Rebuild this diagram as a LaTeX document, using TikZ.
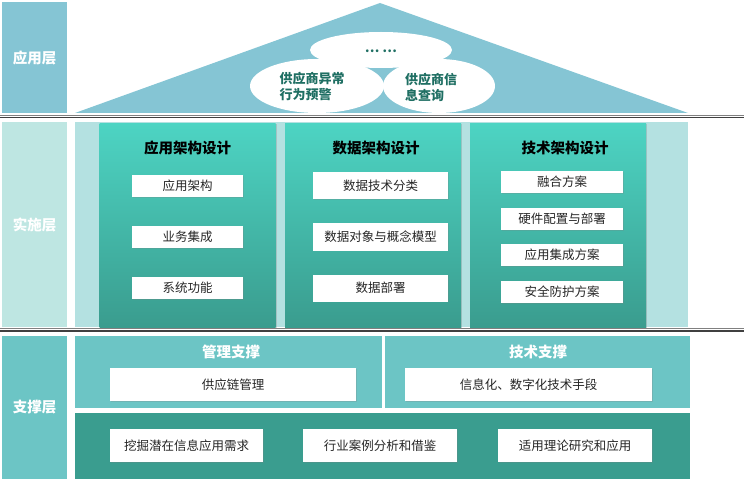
\documentclass[tikz,border=0pt]{standalone}
\usepackage{fontspec}
\setmainfont{Noto Sans CJK SC}
\usetikzlibrary{shapes.geometric,shadows}

\definecolor{appblue}{HTML}{85C5D4}
\definecolor{implpale}{HTML}{BEE6E2}
\definecolor{implband}{HTML}{B4E1E1}
\definecolor{supteal}{HTML}{6CC5C5}
\definecolor{supdark}{HTML}{3A9D8F}
\definecolor{pnltop}{HTML}{4DD4C3}
\definecolor{pnlbot}{HTML}{3A9C8E}
\definecolor{ovaltext}{HTML}{1F6F63}
\definecolor{sepgray}{HTML}{404040}
\definecolor{itemtext}{HTML}{262626}

\tikzset{
	layer/.style={fill=#1,text=white,font=\fontsize{14.5}{17}\selectfont\bfseries,minimum width=65pt,inner sep=0pt},
	band/.style={fill=#1,inner sep=0pt},
	panel/.style={top color=pnltop,bottom color=pnlbot,minimum width=176pt,minimum height=204pt,inner sep=0pt,
		drop shadow={opacity=0.3,shadow xshift=1pt,shadow yshift=-1pt}},
	ptitle/.style={font=\fontsize{14.5}{17}\selectfont\bfseries,text=black,inner sep=0pt},
	stitle/.style={font=\fontsize{14.5}{17}\selectfont\bfseries,text=white,inner sep=0pt},
	itembox/.style={fill=white,inner sep=0pt,text=itemtext,font=\fontsize{12.5}{15}\selectfont,
		drop shadow={opacity=0.25,shadow xshift=0.8pt,shadow yshift=-0.8pt}},
	oval/.style={ellipse,fill=white,inner sep=0pt},
	ovaltxt/.style={inner sep=0pt,text=ovaltext,font=\fontsize{13}{16}\selectfont\bfseries,align=left},
	sepline/.style={draw=sepgray,line width=1.6pt},
	septhin/.style={draw=gray,line width=0.5pt}
}

\begin{document}
\begin{tikzpicture}[x=1pt,y=-1pt]
	\useasboundingbox (0,0) rectangle (744,481);
	\node[layer=appblue,minimum height=111pt] (lApp) at (34.5,57.5) {应用层};
	\node[layer=implpale,minimum height=205pt] (lImpl) at (34.5,224.5) {实施层};
	\node[layer=supteal,minimum height=143pt] (lSup) at (34.5,407.5) {支撑层};
	\fill[appblue] (75,113) -- (380,3) -- (688,113) -- cycle;
	\node[oval,minimum width=142pt,minimum height=36pt] (oMore) at (381,50) {};
	\node[oval,minimum width=134pt,minimum height=54pt] (oAlarm) at (317,86) {};
	\node[oval,minimum width=112pt,minimum height=54pt] (oQuery) at (439,86) {};
	\node[ovaltxt] (xMore) at (381,51) {… …};
	\node[ovaltxt] (xAlarm) at (312,87) {供应商异常\\行为预警};
	\node[ovaltxt] (xQuery) at (431,87) {供应商信\\息查询};
	\draw[septhin] (0,114.8) -- (744,114.8);
	\draw[sepline] (0,117.5) -- (744,117.5);
	\node[band=implband,minimum width=613pt,minimum height=205pt] (implBand) at (381.5,224.5) {};
	\node[panel] (pApp) at (187.5,225.5) {};
	\node[panel] (pData) at (373,225.5) {};
	\node[panel] (pTech) at (558,225.5) {};
	\node[ptitle] (tApp) at (187.5,148) {应用架构设计};
	\node[ptitle] (tData) at (376,148) {数据架构设计};
	\node[ptitle] (tTech) at (565,148) {技术架构设计};
	\node[itembox,minimum width=111pt,minimum height=22pt] (a1) at (187.5,186) {应用架构};
	\node[itembox,minimum width=111pt,minimum height=22pt] (a2) at (187.5,237) {业务集成};
	\node[itembox,minimum width=111pt,minimum height=22pt] (a3) at (187.5,288) {系统功能};
	\node[itembox,minimum width=135pt,minimum height=27pt] (d1) at (380.5,185.5) {数据技术分类};
	\node[itembox,minimum width=135pt,minimum height=27pt] (d2) at (380.5,237) {数据对象与概念模型};
	\node[itembox,minimum width=135pt,minimum height=27pt] (d3) at (380.5,288) {数据部署};
	\node[itembox,minimum width=122pt,minimum height=22pt] (t1) at (562,182) {融合方案};
	\node[itembox,minimum width=122pt,minimum height=22pt] (t2) at (562,219) {硬件配置与部署};
	\node[itembox,minimum width=122pt,minimum height=22pt] (t3) at (562,255) {应用集成方案};
	\node[itembox,minimum width=122pt,minimum height=22pt] (t4) at (562,292) {安全防护方案};
	\draw[septhin] (0,328.5) -- (744,328.5);
	\draw[sepline] (0,331) -- (744,331);
	\node[band=supteal,minimum width=307pt,minimum height=72pt] (sMgmt) at (228.5,372) {};
	\node[band=supteal,minimum width=305pt,minimum height=72pt] (sTech) at (537.5,372) {};
	\node[stitle] (tMgmt) at (231,352) {管理支撑};
	\node[stitle] (tSTech) at (538,352) {技术支撑};
	\node[itembox,minimum width=246pt,minimum height=33pt] (m1) at (233,384.5) {供应链管理};
	\node[itembox,minimum width=247pt,minimum height=33pt] (s1) at (528.5,384.5) {信息化、数字化技术手段};
	\node[band=supdark,minimum width=615pt,minimum height=66pt] (sBase) at (382.5,446) {};
	\node[itembox,minimum width=153pt,minimum height=33pt] (b1) at (186.5,445.5) {挖掘潜在信息应用需求};
	\node[itembox,minimum width=154pt,minimum height=33pt] (b2) at (380,445.5) {行业案例分析和借鉴};
	\node[itembox,minimum width=154pt,minimum height=33pt] (b3) at (575,445.5) {适用理论研究和应用};
\end{tikzpicture}
\end{document}
